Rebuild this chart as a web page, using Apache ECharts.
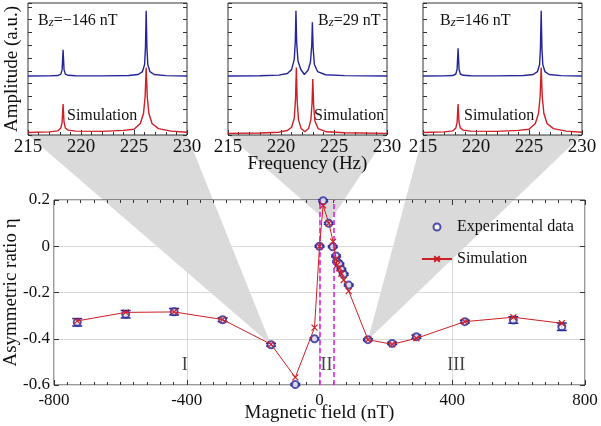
<!DOCTYPE html>
<html>
<head>
  <meta charset="utf-8">
  <title>Asymmetric ratio vs magnetic field</title>
  <script src="https://cdn.jsdelivr.net/npm/echarts@6/dist/echarts.min.js"></script>
  <style>
    * { margin: 0; padding: 0; }
    html, body, #main { width: 100%; height: 100%; overflow: hidden; background: #fff; }
  </style>
</head>
<body>
<div id="main"></div>
<script>
  // ---- main panel: asymmetric ratio vs Bz ----
  var fieldExp = [-730, -584, -438, -292, -146, -73, -15, 0, 11, 28, 40, 50, 53, 60, 66, 73, 88, 146, 219, 292, 438, 584, 730];
  var etaExp = [-0.329, -0.294, -0.283, -0.318, -0.426, -0.598, -0.40, 0.0, 0.197, 0.099, -0.002, -0.042, -0.067, -0.077, -0.10, -0.121, -0.168, -0.404, -0.42, -0.391, -0.326, -0.319, -0.348];
  var errExp = [0.016, 0.016, 0.014, 0.008, 0.006, 0.004, 0.004, 0.004, 0.004, 0.004, 0.004, 0.004, 0.004, 0.004, 0.004, 0.004, 0.004, 0.004, 0.005, 0.007, 0.006, 0.014, 0.016];
  var fieldSim = [-730, -584, -438, -292, -146, -73, -15, 0, 11, 28, 41, 50, 53, 60, 66, 73, 88, 146, 219, 292, 438, 584, 730];
  var etaSim = [-0.323, -0.286, -0.284, -0.317, -0.424, -0.567, -0.352, 0.0, 0.177, 0.10, 0.02, -0.055, -0.081, -0.095, -0.119, -0.146, -0.194, -0.404, -0.424, -0.398, -0.326, -0.307, -0.333];
  var regionNames = ['I', 'II', 'III'];
  var regionField = [-406, 21, 412];
  var regionEta = [-0.513, -0.513, -0.513];
  var boundaryField = [0, 43];

  // ---- insets: spectra (amplitude in a.u.) ----
  var insetTitles = ['Bz=\u2212146 nT', 'Bz=29 nT', 'Bz=146 nT'];
  var freqTicks = [215, 230];

  var expFreqL = [215, 217, 217.8, 218.1, 218.22, 218.31, 218.4, 218.52, 218.8, 219.5, 222, 224.5, 225.4, 225.8, 226.0, 226.08, 226.15, 226.22, 226.3, 226.5, 226.9, 228, 230];
  var expAmpL  = [4.6, 4.61, 4.64, 4.75, 5.1, 6.64, 5.1, 4.75, 4.66, 4.62, 4.61, 4.64, 4.72, 4.95, 5.5, 6.8, 9.69, 6.8, 5.5, 4.95, 4.72, 4.63, 4.6];
  var simFreqL = [215, 217, 217.8, 218.1, 218.22, 218.31, 218.4, 218.52, 218.8, 219.5, 222, 224, 225, 225.6, 225.9, 226.05, 226.15, 226.25, 226.4, 226.7, 227.3, 228.5, 230];
  var simAmpL  = [0.2, 0.24, 0.32, 0.55, 1.0, 2.42, 1.0, 0.55, 0.38, 0.3, 0.28, 0.36, 0.45, 0.9, 1.7, 3.0, 5.26, 3.0, 1.7, 0.9, 0.5, 0.3, 0.22];

  var expFreqC = [215, 218, 219.8, 220.6, 221.0, 221.25, 221.35, 221.41, 221.48, 221.6, 221.85, 222.2, 222.55, 222.78, 222.9, 222.96, 223.03, 223.15, 223.45, 224.2, 226, 230];
  var expAmpC  = [4.6, 4.62, 4.67, 4.8, 5.1, 5.9, 7.3, 9.69, 7.2, 5.8, 5.15, 4.72, 5.05, 5.7, 7.0, 8.8, 6.8, 5.5, 4.95, 4.7, 4.63, 4.6];
  var simFreqC = [215, 218, 219.8, 220.6, 221.0, 221.25, 221.37, 221.45, 221.53, 221.65, 221.9, 222.25, 222.6, 222.82, 222.93, 223.0, 223.08, 223.2, 223.5, 224.3, 226, 230];
  var simAmpC  = [0.13, 0.16, 0.22, 0.35, 0.6, 1.3, 2.8, 5.26, 2.6, 1.2, 0.5, 0.25, 0.5, 1.2, 2.5, 4.375, 2.3, 1.1, 0.5, 0.25, 0.17, 0.13];

  var expFreqR = [215, 217, 217.8, 218.1, 218.22, 218.31, 218.4, 218.52, 218.8, 219.5, 222, 224.5, 225.4, 225.8, 226.0, 226.08, 226.15, 226.22, 226.3, 226.5, 226.9, 228, 230];
  var expAmpR  = [4.6, 4.61, 4.64, 4.76, 5.15, 6.77, 5.15, 4.76, 4.66, 4.62, 4.61, 4.64, 4.72, 4.95, 5.5, 6.8, 9.69, 6.8, 5.5, 4.95, 4.72, 4.63, 4.6];
  var simFreqR = [215, 217, 217.8, 218.1, 218.22, 218.31, 218.4, 218.52, 218.8, 219.5, 222, 224, 225, 225.6, 225.9, 226.05, 226.15, 226.25, 226.4, 226.7, 227.3, 228.5, 230];
  var simAmpR  = [0.2, 0.24, 0.32, 0.55, 1.0, 2.42, 1.0, 0.55, 0.38, 0.3, 0.28, 0.36, 0.45, 0.9, 1.7, 3.0, 5.26, 3.0, 1.7, 0.9, 0.5, 0.3, 0.22];

  var serif = "'Liberation Serif', 'DejaVu Serif', serif";
  var ink = '#111';
  var frame = '#333';
  var blue = '#25259a';
  var red = '#cc1f26';

  function zip(a, b) {
    return a.map(function (v, i) { return [v, b[i]]; });
  }

  var insetLeft = [28, 228, 423];
  var grids = [], xAxes = [], yAxes = [], series = [];
  var noLine = { show: false, onZero: false };

  // inset grids 0..2
  insetLeft.forEach(function (left, i) {
    grids.push({ left: left, top: 3, width: 159, height: 132, show: true, borderColor: frame, borderWidth: 1, backgroundColor: 'transparent', containLabel: false, outerBoundsMode: 'none' });
    xAxes.push({
      gridIndex: i, type: 'value', min: freqTicks[0], max: freqTicks[1], interval: 5,
      axisLine: noLine,
      axisTick: { inside: true, length: 5, lineStyle: { color: frame } },
      minorTick: { show: true, splitNumber: 5, length: 3, lineStyle: { color: frame } },
      splitLine: { show: false },
      axisLabel: { margin: 3, fontFamily: serif, fontSize: 19, color: ink },
      name: i === 1 ? 'Frequency (Hz)' : '',
      nameLocation: 'middle', nameGap: 20, nameMoveOverlap: false,
      nameTextStyle: { fontFamily: serif, fontSize: 19, color: ink }
    });
    yAxes.push({
      gridIndex: i, type: 'value', min: 0, max: 10.3, interval: 1,
      axisLine: noLine,
      axisTick: { inside: true, length: 4, lineStyle: { color: frame } },
      axisLabel: { show: false }, splitLine: { show: false },
      name: i === 0 ? 'Amplitude (a.u.)' : '',
      nameLocation: 'middle', nameGap: 6, nameMoveOverlap: false,
      nameTextStyle: { fontFamily: serif, fontSize: 19, color: ink }
    });
  });

  // main grid 3
  grids.push({ left: 54, top: 200, width: 531, height: 185, show: true, borderColor: frame, borderWidth: 1, backgroundColor: 'transparent', containLabel: false, outerBoundsMode: 'none' });
  xAxes.push({
    gridIndex: 3, type: 'value', position: 'bottom', min: -800, max: 800, interval: 400,
    axisLine: noLine,
    axisTick: { inside: true, length: 5, lineStyle: { color: frame } },
    minorTick: { show: true, splitNumber: 10, length: 3, lineStyle: { color: frame } },
    splitLine: { show: true, lineStyle: { color: '#d9d9d9' } },
    axisLabel: { margin: 7, fontFamily: serif, fontSize: 17, color: ink },
    name: 'Magnetic field (nT)', nameLocation: 'middle', nameGap: 19, nameMoveOverlap: false,
    nameTextStyle: { fontFamily: serif, fontSize: 19, color: ink }
  });
  xAxes.push({
    gridIndex: 3, type: 'value', position: 'top', min: -800, max: 800, interval: 400,
    axisLine: noLine,
    axisTick: { inside: true, length: 5, lineStyle: { color: frame } },
    minorTick: { show: true, splitNumber: 10, length: 3, lineStyle: { color: frame } },
    splitLine: { show: false }, axisLabel: { show: false }
  });
  yAxes.push({
    gridIndex: 3, type: 'value', position: 'left', min: -0.6, max: 0.2, interval: 0.2,
    axisLine: noLine,
    axisTick: { inside: true, length: 5, lineStyle: { color: frame } },
    splitLine: { show: true, lineStyle: { color: '#d9d9d9' } },
    axisLabel: {
      margin: 4, fontFamily: serif, fontSize: 17, color: ink,
      formatter: function (v) { return Math.abs(v) < 1e-9 ? '0' : v.toFixed(1); }
    },
    name: 'Asymmetric ratio \u03b7', nameLocation: 'middle', nameGap: 33, nameMoveOverlap: false,
    nameTextStyle: { fontFamily: serif, fontSize: 19, color: ink }
  });
  // right-hand tick axes (insets 0..2 -> yAxis 4..6, main -> yAxis 7)
  insetLeft.forEach(function (left, i) {
    yAxes.push({
      gridIndex: i, type: 'value', position: 'right', min: 0, max: 10.3, interval: 1,
      axisLine: noLine,
      axisTick: { inside: true, length: 4, lineStyle: { color: frame } },
      axisLabel: { show: false }, splitLine: { show: false }
    });
  });
  yAxes.push({
    gridIndex: 3, type: 'value', position: 'right', min: -0.6, max: 0.2, interval: 0.2,
    axisLine: noLine,
    axisTick: { inside: true, length: 5, lineStyle: { color: frame } },
    axisLabel: { show: false }, splitLine: { show: false }
  });

  var spectra = [
    [expFreqL, expAmpL, simFreqL, simAmpL],
    [expFreqC, expAmpC, simFreqC, simAmpC],
    [expFreqR, expAmpR, simFreqR, simAmpR]
  ];
  spectra.forEach(function (s, i) {
    series.push({
      type: 'line', xAxisIndex: i, yAxisIndex: i, data: zip(s[0], s[1]),
      showSymbol: false, silent: true, lineStyle: { color: blue, width: 1.4 }
    });
    series.push({
      type: 'line', xAxisIndex: i, yAxisIndex: i, data: zip(s[2], s[3]),
      showSymbol: false, silent: true, lineStyle: { color: red, width: 1.4 }
    });
  });

  // error bars
  series.push({
    type: 'custom', xAxisIndex: 3, yAxisIndex: 3, silent: true, z: 3,
    data: fieldExp.map(function (x, i) { return [x, etaExp[i], errExp[i]]; }),
    encode: { x: 0, y: 1 },
    renderItem: function (params, api) {
      var x = api.value(0), y = api.value(1), e = api.value(2);
      var hi = api.coord([x, y + e]), lo = api.coord([x, y - e]);
      var w = 5;
      var st = { stroke: blue, lineWidth: 1.5 };
      return {
        type: 'group',
        children: [
          { type: 'line', shape: { x1: hi[0], y1: hi[1], x2: lo[0], y2: lo[1] }, style: st },
          { type: 'line', shape: { x1: hi[0] - w, y1: hi[1], x2: hi[0] + w, y2: hi[1] }, style: st },
          { type: 'line', shape: { x1: lo[0] - w, y1: lo[1], x2: lo[0] + w, y2: lo[1] }, style: st }
        ]
      };
    }
  });

  series.push({
    name: 'Experimental data', type: 'scatter', xAxisIndex: 3, yAxisIndex: 3, z: 4,
    data: zip(fieldExp, etaExp),
    symbol: 'emptyCircle', symbolSize: 7,
    itemStyle: { color: blue, borderColor: blue, borderWidth: 1.2 },
    markLine: {
      silent: true, symbol: 'none', label: { show: false },
      lineStyle: { color: '#e020e0', type: [5, 3], width: 1.6 },
      data: boundaryField.map(function (v) { return { xAxis: v }; })
    }
  });

  series.push({
    name: 'Simulation', type: 'line', xAxisIndex: 3, yAxisIndex: 3, z: 5,
    data: zip(fieldSim, etaSim),
    symbol: 'path://M0,0L10,10M10,0L0,10', symbolSize: 6,
    lineStyle: { color: red, width: 1 },
    itemStyle: { color: red, borderColor: red, borderWidth: 1.2 }
  });

  series.push({
    type: 'scatter', xAxisIndex: 3, yAxisIndex: 3, silent: true,
    symbolSize: 0,
    data: regionField.map(function (x, i) { return { value: [x, regionEta[i]], name: regionNames[i] }; }),
    label: {
      show: true, position: 'inside', formatter: '{b}',
      fontFamily: serif, fontSize: 18, color: ink
    }
  });

  var option = {
    animation: false,
    backgroundColor: '#fff',
    grid: grids,
    xAxis: xAxes,
    yAxis: yAxes,
    legend: {
      data: [
        { name: 'Experimental data', icon: 'emptyCircle' },
        { name: 'Simulation' }
      ],
      orient: 'vertical', left: 416, top: 213,
      itemWidth: 30, itemHeight: 7, itemGap: 14,
      textStyle: { fontFamily: serif, fontSize: 16, color: ink, lineHeight: 18 }
    },
    series: series
  };

  var chart = echarts.init(document.getElementById('main'));
  chart.setOption(option);

  // grey wedges linking each inset to its field value in the main panel
  var linkPoint = [4, 9, 17];
  var elements = [];
  linkPoint.forEach(function (p, i) {
    var a = chart.convertToPixel({ xAxisIndex: i, yAxisIndex: i }, [freqTicks[0], 0]);
    var b = chart.convertToPixel({ xAxisIndex: i, yAxisIndex: i }, [freqTicks[1], 0]);
    var c = chart.convertToPixel({ xAxisIndex: 3, yAxisIndex: 3 }, [fieldExp[p], etaExp[p]]);
    elements.push({
      type: 'polygon', z: -1, silent: true,
      shape: { points: [a, b, c] },
      style: { fill: '#dadada' }
    });
  });

  // inset annotations
  var titleLeft = [38, 318, 440];
  var simLeft = [67, 314, 464];
  insetTitles.forEach(function (t, i) {
    elements.push({
      type: 'text', left: titleLeft[i], top: 13, silent: true,
      style: {
        text: '{n|B}{i|z}{n|' + t.slice(2) + '}',
        rich: {
          n: { fontFamily: serif, fontSize: 16, fill: ink },
          i: { fontFamily: serif, fontSize: 13, fontStyle: 'italic', fill: ink, padding: [4, 0, 0, 0] }
        }
      }
    });
    elements.push({
      type: 'text', left: simLeft[i], top: 108, silent: true,
      style: { text: 'Simulation', fontFamily: serif, fontSize: 16, fill: ink }
    });
  });

  chart.setOption({ graphic: { elements: elements } });
</script>
</body>
</html>
